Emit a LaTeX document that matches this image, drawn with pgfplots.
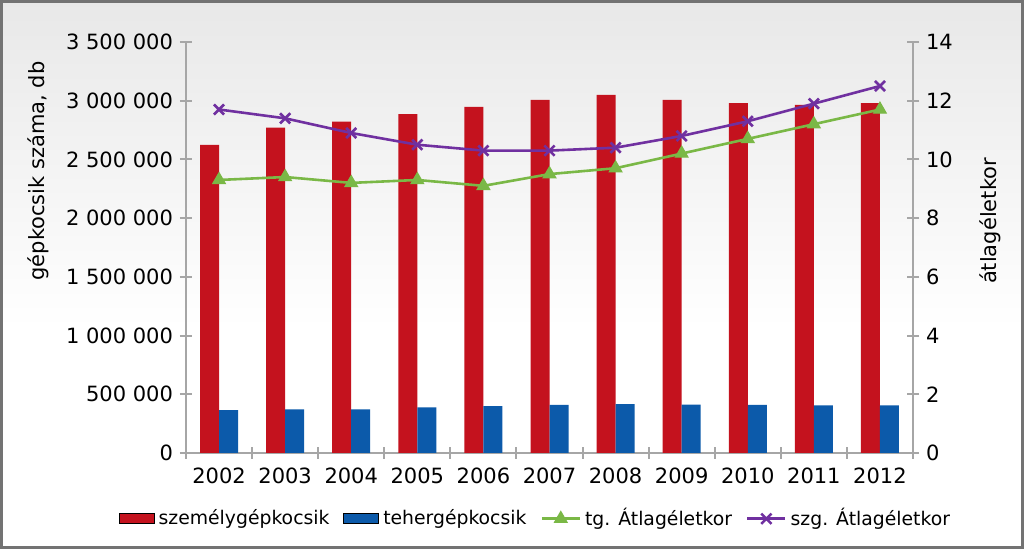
\documentclass[border=0pt]{standalone}
\usepackage{pgfplots}
\pgfplotsset{compat=1.18}
\usepackage{fontspec}
\setmainfont{DejaVu Sans}

\definecolor{szred}{RGB}{196,18,30}
\definecolor{tgblue}{RGB}{12,90,170}
\definecolor{tggreen}{RGB}{122,184,70}
\definecolor{szpurple}{RGB}{112,48,160}
\definecolor{axgray}{RGB}{166,166,166}
\definecolor{framegray}{RGB}{115,115,115}

\pgfplotsset{
  barlegend/.style={legend image code/.code={
      \fill[##1] (0pt,-2.5pt) rectangle (17.5pt,2.5pt);}},
  linelegend/.style={legend image code/.code={
      \draw[##1] (0pt,0pt) -- (19pt,0pt);
      \draw[##1,only marks] plot coordinates {(9.5pt,0pt)};}},
}

\begin{document}
\begin{tikzpicture}
\useasboundingbox (0,0) rectangle (512pt,274.5pt);
\fill[white] (0,0) rectangle (512pt,274.5pt);
\shade[top color=black!9, bottom color=white] (0,110pt) rectangle (512pt,274.5pt);
\draw[framegray, line width=1.5pt] (0.75pt,0.75pt) rectangle (511.25pt,273.75pt);

% bars, left axis
\begin{axis}[
  at={(93pt,48pt)}, anchor=south west,
  width=363.5pt, height=205.5pt, scale only axis,
  xmin=-0.5, xmax=10.5, ymin=0, ymax=3500000,
  ybar=0pt, bar width=9.5pt,
  axis x line*=bottom, axis y line*=left,
  axis line style={draw=axgray, line width=1pt},
  xtick={0,...,10},
  xticklabels={2002,2003,2004,2005,2006,2007,2008,2009,2010,2011,2012},
  major x tick style={draw=none},
  minor xtick={-0.5,0.5,...,10.5},
  ytick={0,500000,...,3500000},
  tick align=center, major tick length=6pt, minor tick length=6pt,
  every tick/.style={draw=axgray, line width=1pt},
  scaled y ticks=false,
  tick label style={font=\fontsize{10.5}{12}\selectfont},
  /pgf/number format/assume math mode=true,
  yticklabel style={/pgf/number format/.cd, fixed, 1000 sep={\ }},
  xticklabel style={yshift=-1pt},
]
\addplot[fill=szred, draw=none] coordinates {
  (0,2623000)(1,2771000)(2,2822000)(3,2885000)(4,2947000)(5,3007000)
  (6,3049000)(7,3007000)(8,2979000)(9,2964000)(10,2979000)};
\addplot[fill=tgblue, draw=none] coordinates {
  (0,366000)(1,372000)(2,372000)(3,389000)(4,400000)(5,409000)
  (6,417000)(7,411000)(8,409000)(9,406000)(10,406000)};
\end{axis}

% average age, right axis
\begin{axis}[
  at={(93pt,48pt)}, anchor=south west,
  width=363.5pt, height=205.5pt, scale only axis,
  xmin=-0.5, xmax=10.5, ymin=0, ymax=14,
  axis x line=none, axis y line*=right,
  axis line style={draw=axgray, line width=1pt},
  ytick={0,2,...,14},
  tick align=center, major tick length=6pt,
  every tick/.style={draw=axgray, line width=1pt},
  tick label style={font=\fontsize{10.5}{12}\selectfont},
  /pgf/number format/assume math mode=true,
  legend columns=4,
  legend style={draw=none, fill=none, at={(0.482,-0.16)}, anchor=center,
    font=\fontsize{9.4}{11}\selectfont,
    nodes={inner xsep=2pt},
    /tikz/every odd column/.append style={column sep=0pt},
    /tikz/every even column/.append style={column sep=5pt}},
]
\addlegendimage{barlegend, fill=szred}
\addlegendentry{személygépkocsik}
\addlegendimage{barlegend, fill=tgblue}
\addlegendentry{tehergépkocsik}
\addplot[tggreen, line width=1.3pt, mark=triangle*, mark size=3.6pt,
  mark options={fill=tggreen, line width=0.6pt}, linelegend] coordinates {
  (0,9.3)(1,9.4)(2,9.2)(3,9.3)(4,9.1)(5,9.5)
  (6,9.7)(7,10.2)(8,10.7)(9,11.2)(10,11.7)};
\addlegendentry{tg. Átlagéletkor}
\addplot[szpurple, line width=1.3pt, mark=x, mark size=3.6pt, linelegend] coordinates {
  (0,11.7)(1,11.4)(2,10.9)(3,10.5)(4,10.3)(5,10.3)
  (6,10.4)(7,10.8)(8,11.3)(9,11.9)(10,12.5)};
\addlegendentry{szg. Átlagéletkor}
\end{axis}

\node[rotate=90, font=\fontsize{10.5}{12}\selectfont] at (19pt,189pt) {gépkocsik száma, db};
\node[rotate=90, font=\fontsize{10.5}{12}\selectfont] at (495pt,164pt) {átlagéletkor};
\end{tikzpicture}
\end{document}
